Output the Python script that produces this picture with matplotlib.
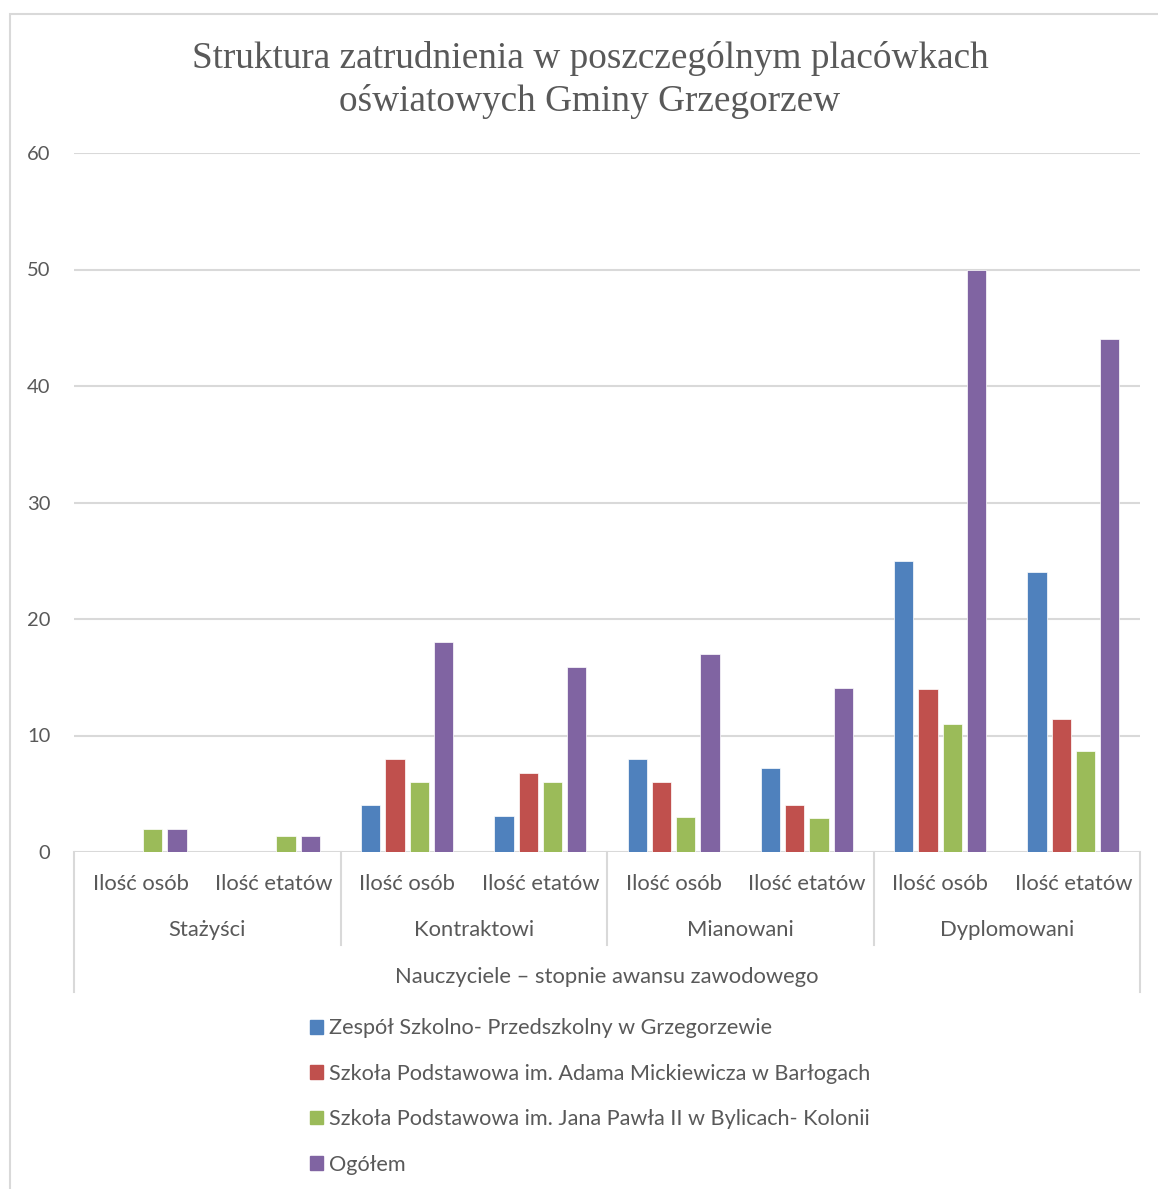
import numpy as np
import matplotlib.pyplot as plt
from matplotlib.patches import Rectangle, Patch
from matplotlib.lines import Line2D

groups = ["Stażyści", "Kontraktowi", "Mianowani", "Dyplomowani"]
subcats = ["Ilość osób", "Ilość etatów"]
series = [
    "Zespół Szkolno- Przedszkolny w Grzegorzewie",
    "Szkoła Podstawowa im. Adama Mickiewicza w Barłogach",
    "Szkoła Podstawowa im. Jana Pawła II w Bylicach- Kolonii",
    "Ogółem",
]
zespol = [0, 0, 4, 3.1, 8, 7.2, 25, 24]
barlogi = [0, 0, 8, 6.8, 6, 4, 14, 11.4]
bylice = [2, 1.4, 6, 6, 3, 2.9, 11, 8.7]
ogolem = [2, 1.4, 18, 15.9, 17, 14.1, 50, 44]
colors = ["#4F81BD", "#C0504D", "#9BBB59", "#8064A2"]

title = "Struktura zatrudnienia w poszczególnym placówkach\noświatowych Gminy Grzegorzew"
axis_title = "Nauczyciele – stopnie awansu zawodowego"

W, H = 1158, 1189
fig = plt.figure(figsize=(W / 100, H / 100), dpi=100)
ax = fig.add_axes([74 / W, 1 - 852 / H, (1140 - 74) / W, (852 - 153) / H])

txt = "#595959"
grid = "#d9d9d9"
sans = "Lato"
fs = 15.8

x = np.arange(8)
step, width = 0.182, 0.146
for i, vals in enumerate([zespol, barlogi, bylice, ogolem]):
    ax.bar(x + (i - 1.5) * step, vals, width, color=colors[i], edgecolor="white", linewidth=0.5, zorder=3)

ax.set_xlim(-0.5, 7.5)
ax.set_ylim(0, 60)
ax.set_yticks(range(0, 61, 10))
ax.yaxis.grid(True, color=grid, linewidth=1.5, zorder=0)
for s in ax.spines.values():
    s.set_visible(False)
ax.tick_params(axis="y", length=0, pad=17, labelsize=14.5, labelcolor=txt)
for lab in ax.get_yticklabels():
    lab.set_fontfamily(sans)
ax.set_xticks([])

# hierarchical category axis
tr = ax.get_xaxis_transform()
ah = 852 - 153
for k in range(8):
    ax.text(k, (852 - 884) / ah, subcats[k % 2], transform=tr, ha="center", va="center",
            fontsize=fs, color=txt, family=sans)
for g, name in enumerate(groups):
    ax.text(2 * g + 0.5, (852 - 930) / ah, name, transform=tr, ha="center", va="center",
            fontsize=fs, color=txt, family=sans)
ax.text(3.5, (852 - 977) / ah, axis_title, transform=tr, ha="center", va="center",
        fontsize=fs, color=txt, family=sans)
for b in [1.5, 3.5, 5.5]:
    ax.add_line(Line2D([b, b], [0, (852 - 945) / ah], transform=tr, color=grid, lw=1.5, clip_on=False))
for b in [-0.5, 7.5]:
    ax.add_line(Line2D([b, b], [0, (852 - 992) / ah], transform=tr, color=grid, lw=1.5, clip_on=False))

fig.text(590 / W, 1 - 80 / H, title, ha="center", va="center", fontsize=26.8,
         color=txt, family="Liberation Serif", linespacing=1.3)

# chart border
fig.add_artist(Rectangle((10 / W, -0.1), 1.2, 1 - 14 / H + 0.1, transform=fig.transFigure,
                         fill=False, edgecolor=grid, lw=1.5))

handles = [Patch(color=c) for c in colors]
fig.legend(handles, series, loc="upper left", bbox_to_anchor=(290 / W, 1 - 999 / H),
           frameon=False, prop={"family": sans, "size": 15.6}, labelcolor=txt,
           handlelength=0.6, handleheight=0.6, handletextpad=0.3, labelspacing=1.17)

fig.savefig("out.png", dpi=100)
